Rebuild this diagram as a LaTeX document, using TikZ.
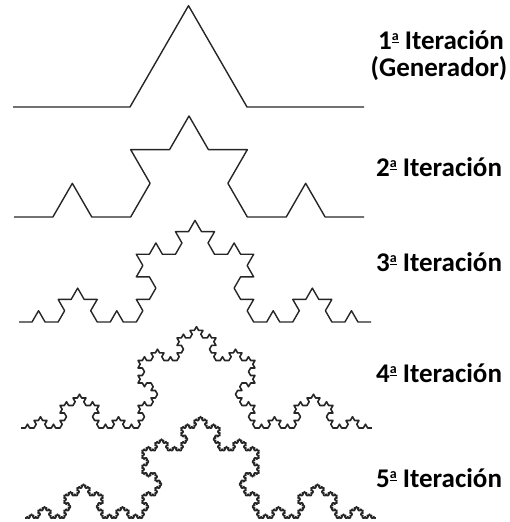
\documentclass[tikz,border=0pt]{standalone}
\usepackage{fontspec}
\setmainfont{Carlito}
\usetikzlibrary{lindenmayersystems}
\pgfdeclarelindenmayersystem{koch}{\rule{F -> F+F--F+F}}
\newcommand\myorda{\raisebox{9.5pt}{\fontsize{14}{14}\selectfont\bfseries\underline{a}}}
\begin{document}
\begin{tikzpicture}[x=1pt,y=1pt,
  kochline/.style={draw=black!85, line width=1.4pt, line join=round},
  lbl/.style={font=\fontsize{27}{32}\selectfont\bfseries, inner sep=0pt, text=black}]
\useasboundingbox (0,0) rectangle (509,522);
\begin{scope}[shift={(13,415)}]
\draw[kochline, l-system={koch, axiom=F, order=1, angle=60, step=117pt}] lindenmayer system;
\end{scope}
\begin{scope}[shift={(14,305)}]
\draw[kochline, l-system={koch, axiom=F, order=2, angle=60, step=38.889pt}] lindenmayer system;
\end{scope}
\begin{scope}[shift={(19,200)}]
\draw[kochline, l-system={koch, axiom=F, order=3, angle=60, step=13.037pt}] lindenmayer system;
\end{scope}
\begin{scope}[shift={(21,94)}]
\draw[kochline, line width=1.6pt, l-system={koch, axiom=F, order=4, angle=60, step=4.333pt}] lindenmayer system;
\end{scope}
\begin{scope}[shift={(25,4)}]
\draw[kochline, line width=1.7pt, l-system={koch, axiom=F, order=5, angle=60, step=1.4444pt}] lindenmayer system;
\end{scope}
\node[lbl, anchor=base] (it1) at (441,472) {1\myorda{} Iteración};
\node[lbl, anchor=base] (gen) at (439,445) {(Generador)};
\node[lbl, anchor=base west] (it2) at (376,345) {2\myorda{} Iteración};
\node[lbl, anchor=base west] (it3) at (376,250) {3\myorda{} Iteración};
\node[lbl, anchor=base west] (it4) at (376,139) {4\myorda{} Iteración};
\node[lbl, anchor=base west] (it5) at (376,34) {5\myorda{} Iteración};
\end{tikzpicture}
\end{document}
